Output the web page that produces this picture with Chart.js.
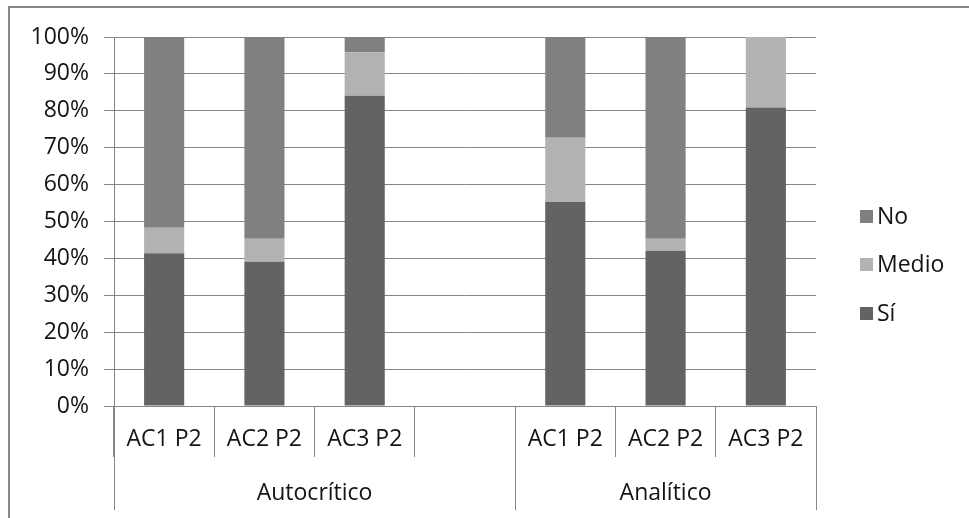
<!DOCTYPE html>
<html>
<head>
<meta charset="utf-8">
<script src="https://cdn.jsdelivr.net/npm/chart.js@4.4.1/dist/chart.umd.min.js"></script>
<style>
  html, body { margin: 0; padding: 0; background: #fff; overflow: hidden; }
  #wrap { position: relative; width: 969px; height: 518px; }
</style>
</head>
<body>
<div id="wrap"><canvas id="chart"></canvas></div>
<script>
// Categories along the x axis (empty slot separates the two groups)
const categories = ['AC1 P2', 'AC2 P2', 'AC3 P2', '', 'AC1 P2', 'AC2 P2', 'AC3 P2'];
// Outer group labels with the first and last category index they span
const groupLabels = ['Autocrítico', 'Analítico'];
const groupStart = [0, 4];
const groupEnd = [3, 6];
// Share of answers (%) per category
const siValues    = [41.4, 39.1, 84.1, null, 55.3, 42.1, 80.9];
const medioValues = [6.9,  6.2,  11.8, null, 17.4, 3.2,  19.1];
const noValues    = [51.7, 54.7, 4.1,  null, 27.3, 54.7, 0];
const yTicks = [0, 10, 20, 30, 40, 50, 60, 70, 80, 90, 100];

const FONT = '"Open Sans", "Liberation Sans", sans-serif';
const FONT_SIZE = 23;
const GRID = '#868686';
const TEXT = '#141414';

// Frame around the whole chart
const framePlugin = {
  id: 'frame',
  beforeDraw(chart) {
    const ctx = chart.ctx;
    ctx.save();
    ctx.strokeStyle = GRID;
    ctx.lineWidth = 2;
    ctx.strokeRect(9, 7, 2000, 2000);
    ctx.restore();
  }
};

// Group labels and full-height separators below the category labels
const groupAxisPlugin = {
  id: 'groupAxis',
  afterDraw(chart) {
    const x = chart.scales.x;
    const area = chart.chartArea;
    const ctx = chart.ctx;
    const half = (x.getPixelForValue(1) - x.getPixelForValue(0)) / 2;
    ctx.save();
    ctx.strokeStyle = GRID;
    ctx.lineWidth = 1;
    const edges = new Set();
    groupStart.forEach((s, i) => {
      edges.add(x.getPixelForValue(s) - half);
      edges.add(x.getPixelForValue(groupEnd[i]) + half);
    });
    edges.forEach(px => {
      const xp = Math.round(px) + 0.5;
      ctx.beginPath();
      ctx.moveTo(xp, area.bottom);
      ctx.lineTo(xp, 510);
      ctx.stroke();
    });
    ctx.fillStyle = TEXT;
    ctx.font = FONT_SIZE + 'px ' + FONT;
    ctx.textAlign = 'center';
    ctx.textBaseline = 'middle';
    groupLabels.forEach((label, i) => {
      const left = x.getPixelForValue(groupStart[i]) - half;
      const right = x.getPixelForValue(groupEnd[i]) + half;
      ctx.fillText(label, (left + right) / 2, 493);
    });
    ctx.restore();
  }
};

// Legend on the right, listed top to bottom in reverse stacking order
const sideLegendPlugin = {
  id: 'sideLegend',
  afterDraw(chart) {
    const ctx = chart.ctx;
    const sets = chart.data.datasets.slice().reverse();
    ctx.save();
    ctx.font = FONT_SIZE + 'px ' + FONT;
    ctx.textAlign = 'left';
    ctx.textBaseline = 'middle';
    sets.forEach((ds, i) => {
      const cy = 216.5 + i * 48.3;
      ctx.fillStyle = ds.backgroundColor;
      ctx.fillRect(860, Math.round(cy - 6.5), 13, 13);
      ctx.fillStyle = TEXT;
      ctx.fillText(ds.label, 877, cy + 1);
    });
    ctx.restore();
  }
};

new Chart(document.getElementById('chart'), {
  type: 'bar',
  data: {
    labels: categories,
    datasets: [
      { label: 'Sí',    data: siValues,    backgroundColor: '#636363' },
      { label: 'Medio', data: medioValues, backgroundColor: '#b2b2b2' },
      { label: 'No',    data: noValues,    backgroundColor: '#808080' }
    ]
  },
  options: {
    responsive: true,
    maintainAspectRatio: false,
    animation: false,
    layout: { padding: { top: 37, left: 0, right: 153, bottom: 0 } },
    datasets: { bar: { categoryPercentage: 1.0, barPercentage: 0.4 } },
    plugins: {
      legend: { display: false },
      tooltip: { enabled: false }
    },
    scales: {
      x: {
        stacked: true,
        offset: true,
        afterFit(scale) { scale.height = 112; },
        grid: {
          offset: true,
          drawOnChartArea: false,
          tickLength: 51,
          color: GRID,
          lineWidth: 1
        },
        border: { display: true, color: GRID, width: 1 },
        ticks: {
          color: TEXT,
          font: { family: FONT, size: FONT_SIZE },
          padding: -31,
          maxRotation: 0,
          autoSkip: false
        }
      },
      y: {
        stacked: true,
        min: 0,
        max: 100,
        afterFit(scale) { scale.width = 114; },
        afterBuildTicks(scale) { scale.ticks = yTicks.map(v => ({ value: v })); },
        grid: { color: GRID, lineWidth: 1, tickLength: 10 },
        border: { display: true, color: GRID, width: 1 },
        ticks: {
          color: TEXT,
          font: { family: FONT, size: FONT_SIZE },
          padding: 15,
          callback: v => v + '%'
        }
      }
    }
  },
  plugins: [framePlugin, groupAxisPlugin, sideLegendPlugin]
});
</script>
</body>
</html>
